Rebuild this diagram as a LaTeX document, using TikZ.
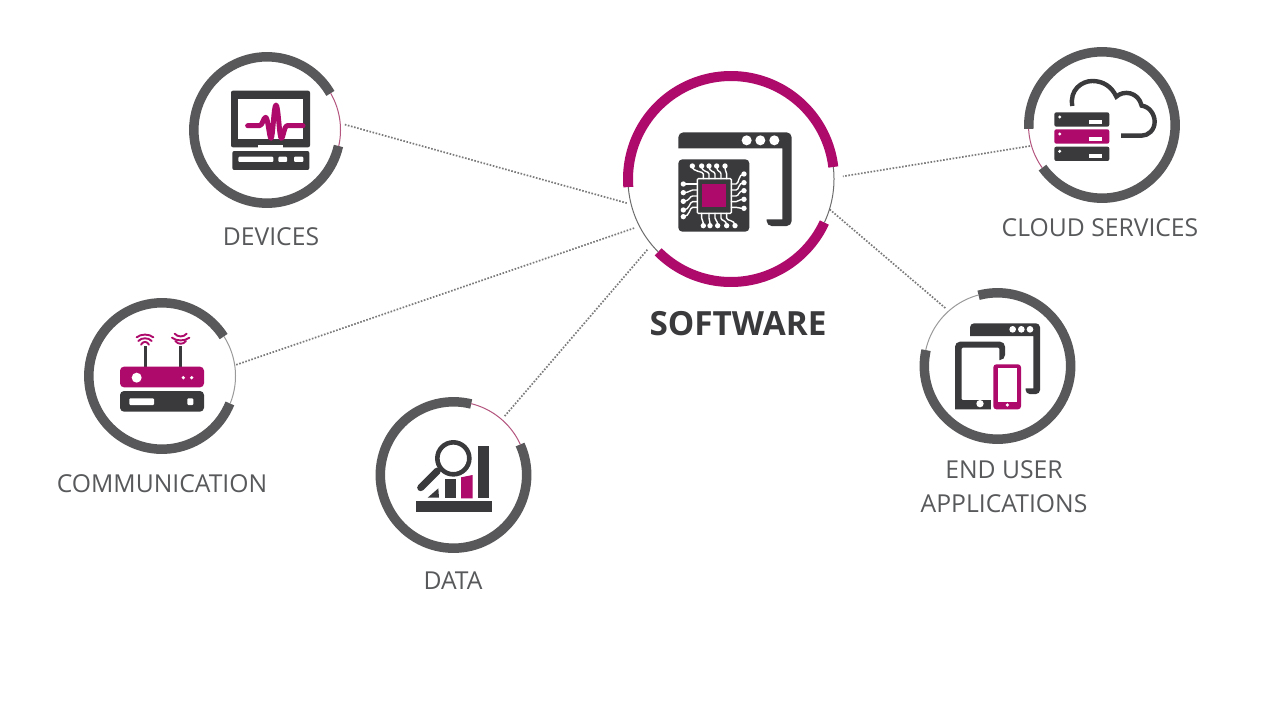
\documentclass[tikz,border=0pt]{standalone}
\usepackage{fontspec}
\setmainfont{Open Sans}
\definecolor{mag}{HTML}{AE0A6B}
\definecolor{ringg}{HTML}{58585A}
\definecolor{icond}{HTML}{3A3A3C}
\definecolor{labelg}{HTML}{58595B}
\definecolor{thinmag}{HTML}{B4557F}
\definecolor{thing}{HTML}{9A9A9A}
\definecolor{dotg}{HTML}{7A7A7A}
\newcommand\ringarc[5]{\draw[#1,shift={(#2.center)}] plot[domain=#4:#5,samples=90] ({#3*cos(\x)},{-#3*sin(\x)});}
\tikzset{
  hub/.style={circle,draw=none,inner sep=0pt,outer sep=0pt,minimum size=156pt},
  hubbig/.style={circle,draw=none,inner sep=0pt,outer sep=0pt,minimum size=214pt},
  thick ring/.style={draw=ringg,line width=9.5pt},
  mag ring/.style={draw=mag,line width=10pt},
  thin ring/.style={line width=1pt},
  link/.style={draw=dotg,line width=1.7pt,dash pattern=on 1.6pt off 1.6pt},
  lab/.style={text=labelg,font=\fontsize{24.7}{34}\selectfont,align=center,inner sep=0pt},
  dk/.style={fill=icond,draw=none},
  mg/.style={fill=mag,draw=none},
  wh/.style={fill=white,draw=none},
  trace/.style={draw=white,line width=1.4pt,line cap=round}
}
\begin{document}
\begin{tikzpicture}[x=1pt,y=-1pt]
\useasboundingbox (0,0) rectangle (1280,720);
\fill[white] (0,0) rectangle (1280,720);
% hubs
\node[hubbig] (sw) at (731,179) {};
\node[hub] (dev) at (267,130) {};
\node[hub] (cloud) at (1102,125) {};
\node[hub] (user) at (997.5,366) {};
\node[hub] (comm) at (162,376) {};
\node[hub] (data) at (453.5,475) {};
% connectors
\draw[link] (dev.4) -- (sw.193);
\draw[link,shorten <=-3pt] (comm.9) -- (sw.207);
\draw[link,shorten >=2pt] (data.49) -- (sw.220);
\draw[link,shorten <=-3pt,shorten >=5pt] (cloud.196) -- (sw.1);
\draw[link,shorten >=-4pt] (user.132) -- (sw.-18);
% rings
\ringarc{mag ring}{sw}{103}{6.7}{184.5}
\ringarc{mag ring}{sw}{103}{-135}{-25}
\ringarc{thin ring,draw=thing!70!black}{sw}{103}{-25}{6.7}
\ringarc{thin ring,draw=thing!70!black}{sw}{103}{184.5}{225}
\ringarc{thick ring}{dev}{73.2}{30}{347.4}
\ringarc{thin ring,draw=thinmag}{dev}{73.5}{-12.6}{30}
\ringarc{thick ring}{cloud}{73.2}{-144.4}{183}
\ringarc{thin ring,draw=thinmag}{cloud}{73.5}{183}{215.6}
\ringarc{thick ring}{user}{73.2}{-192.5}{105}
\ringarc{thin ring,draw=thing}{user}{73.5}{105}{167.5}
\ringarc{thick ring}{comm}{73.2}{32.6}{338}
\ringarc{thin ring,draw=thing}{comm}{73.5}{-22}{32.6}
\ringarc{thick ring}{data}{73.2}{76}{384.6}
\ringarc{thin ring,draw=thinmag}{data}{73.5}{24.6}{76}
% labels
\node[text=icond,font=\fontsize{33.3}{40}\bfseries\selectfont,inner sep=0pt] (lsw) at (738,324) {SOFTWARE};
\node[lab] (ldev) at (271,237) {DEVICES};
\node[lab] (lcloud) at (1100,228) {CLOUD SERVICES};
\node[lab] (luser) at (1004,487) {END USER\\APPLICATIONS};
\node[lab] (lcomm) at (162,484) {COMMUNICATION};
\node[lab] (ldata) at (453,581) {DATA};
% device icon
\begin{scope}[shift={(170,40)},scale=1/3]
\fill[dk,rounded corners=2pt] (183,152) rectangle (420,322);
\fill[wh] (205,178) rectangle (400,298);
\fill[wh] (265,316) rectangle (340,324);
\fill[dk,rounded corners=2pt] (187,333) rectangle (418,390);
\fill[wh,rounded corners=1pt] (205,350) rectangle (310,366);
\fill[wh,rounded corners=1pt] (325,350) rectangle (351,366);
\fill[wh,rounded corners=1pt] (372,350) rectangle (400,366);
\draw[mag,line width=5pt,line join=round,line cap=round]
 (233,257) -- (268,257) .. controls (278,257) and (280,232) .. (287,232)
 .. controls (294,232) and (298,295) .. (303,295) .. controls (309,295) and (311,195) .. (318,195)
 .. controls (325,195) and (328,295) .. (334,295) .. controls (340,295) and (342,257) .. (352,257) -- (399,257);
\end{scope}
% software icon
\begin{scope}[shift={(610,60)},scale=1/3]
\fill[dk,rounded corners=5pt] (205,265) -- (205,217) -- (545,217) -- (545,498) -- (470,498) [sharp corners] -- (470,478) -- (517,478) -- (517,265) -- cycle;
\foreach \px in {410,451,493} \fill[wh] (\px,241) circle[radius=15];
\fill[dk,rounded corners=4pt] (205,298) rectangle (418,515);
\draw[draw=white,line width=1.4pt,rounded corners=1pt] (262,356) rectangle (364,460);
\fill[mag] (277,372) rectangle (348,442);
\foreach \a/\b in {280/247,297/275,315/297,333/320,350/345}{
  \draw[trace] (\a,356) -- (\a,342) .. controls (\a,332) and (\b,338) .. (\b,318);
  \fill[wh] (\b,318) circle[radius=8];
}
\foreach \a/\b in {275/280,297/300,315/323,333/350,350/375}{
  \draw[trace] (\a,460) -- (\a,474) .. controls (\a,484) and (\b,478) .. (\b,497);
  \fill[wh] (\b,497) circle[radius=8];
}
\foreach \a/\b in {372/372,390/398,408/424,425/450,442/470}{
  \draw[trace] (262,\a) -- (248,\a) .. controls (238,\a) and (240,\b) .. (220,\b);
  \fill[wh] (220,\b) circle[radius=8];
}
\foreach \a/\b in {372/342,390/368,408/392,425/418,442/445}{
  \draw[trace] (364,\a) -- (378,\a) .. controls (388,\a) and (384,\b) .. (402,\b);
  \fill[wh] (402,\b) circle[radius=8];
}
\end{scope}
% cloud icon
\begin{scope}[shift={(1010,35)},scale=1/3]
\draw[icond,line width=4.4pt]
 (187,213) .. controls (178,165) and (215,138) .. (247,138)
 .. controls (280,138) and (305,155) .. (319,185)
 .. controls (340,165) and (385,170) .. (395,212)
 .. controls (420,215) and (434,240) .. (434,260)
 .. controls (434,285) and (415,302) .. (395,302) -- (333,302);
\foreach \ty/\st in {232/dk,283/mg,335/dk}{
  \fill[\st,rounded corners=2pt] (133,\ty) rectangle (298,\ty+43);
  \fill[wh] (149,\ty+14) circle[radius=5];
  \fill[wh] (238,\ty+23) rectangle (277,\ty+35);
}
\end{scope}
% end user icon
\begin{scope}[shift={(905,280)},scale=1/3]
\fill[dk,rounded corners=4pt] (195,168) -- (195,130) -- (405,130) -- (405,342) -- (362,342) [sharp corners] -- (362,325) -- (385,325) -- (385,168) -- cycle;
\foreach \px in {323,349,375} \fill[wh] (\px,148) circle[radius=10];
\fill[dk,rounded corners=5pt] (150,388) -- (150,185) -- (300,185) -- (300,240) [sharp corners] -- (283,240) [rounded corners=1pt] -- (283,203) -- (170,203) -- (170,360) -- (262,360) [sharp corners] -- (262,388) -- cycle;
\fill[wh] (225,371) circle[radius=11];
\fill[white] (258,245) rectangle (268,395);
\fill[mg,rounded corners=3pt] (265,253) rectangle (348,388);
\fill[wh] (278,265) rectangle (337,365);
\fill[wh] (307,375) circle[radius=5.5];
\end{scope}
% communication icon
\begin{scope}[shift={(70,290)},scale=1/3]
\draw[icond,line width=3pt] (227,168) -- (227,230) (332,168) -- (332,230);
\fill[mg,rounded corners=4pt] (150,230) rectangle (402,292);
\fill[wh] (200,263) circle[radius=15];
\foreach \px in {340,365} \fill[wh] (\px,263) circle[radius=5.5];
\fill[dk,rounded corners=4pt] (150,303) rectangle (402,365);
\fill[wh,rounded corners=1pt] (178,325) rectangle (252,345);
\fill[wh,rounded corners=1pt] (352,325) rectangle (370,345);
\foreach \w/\yy in {25/136,20/147,12/158}{
  \draw[mag,line width=1.9pt,line cap=round] (225-\w,\yy+6) .. controls (225-\w/2,\yy-5) and (225+\w/2,\yy-5) .. (225+\w,\yy+6);
}
\foreach \w/\yy in {18/136,26/148,16/158}{
  \draw[mag,line width=1.9pt,line cap=round] (332-\w,\yy-5) .. controls (332-\w/2,\yy+6) and (332+\w/2,\yy+6) .. (332+\w,\yy-5);
}
\end{scope}
% data icon
\begin{scope}[shift={(365,390)},scale=1/3]
\fill[dk] (152,333) rectangle (380,365);
\fill[dk] (340,168) rectangle (373,325);
\fill[mg] (288,262) -- (323,255) -- (323,325) -- (288,325) -- cycle;
\fill[dk] (240,267) -- (272,267) -- (272,323) -- (240,323) -- cycle;
\fill[dk] (188,323) -- (220,295) -- (222,323) -- cycle;
\draw[icond,line width=4.6pt] (265,205) circle[radius=48];
\draw[icond,line width=7pt,line cap=round] (217,243) -- (167,293);
\end{scope}
\end{tikzpicture}
\end{document}
